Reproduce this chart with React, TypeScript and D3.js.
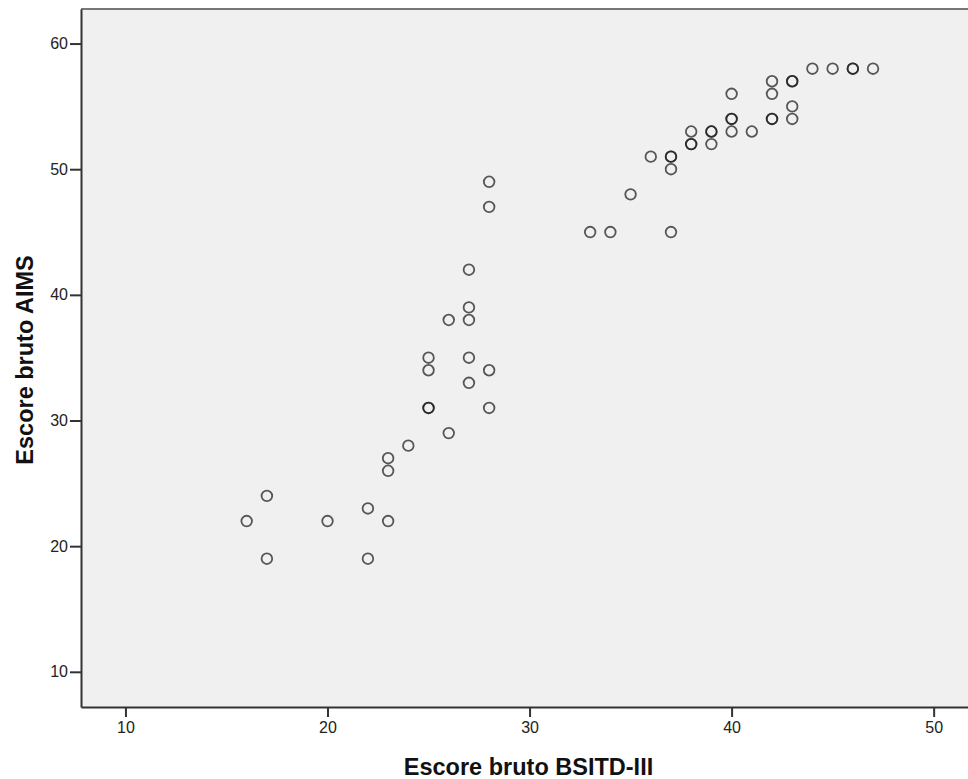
import React, { useEffect, useRef } from "react";
import * as d3 from "d3";

// raw scores, one entry per child (repeated pairs = overlapping circles)
const bsitd = [16, 17, 17, 20, 22, 22, 23, 23, 23, 24, 25, 25, 25, 25, 26, 26, 27, 27, 27, 27, 27, 28, 28, 28, 28,
    33, 34, 35, 36, 37, 37, 37, 37, 38, 38, 38, 39, 39, 39, 40, 40, 40, 40, 41, 42, 42, 42, 42, 43, 43, 43, 43,
    44, 45, 46, 46, 47];
const aims = [22, 24, 19, 22, 23, 19, 22, 27, 26, 28, 35, 34, 31, 31, 38, 29, 42, 39, 38, 35, 33, 49, 47, 34, 31,
    45, 45, 48, 51, 51, 51, 50, 45, 53, 52, 52, 53, 53, 52, 56, 54, 54, 53, 53, 57, 56, 54, 54, 57, 57, 55, 54,
    58, 58, 58, 58, 58];

const xTicks = [10, 20, 30, 40, 50];
const yTicks = [10, 20, 30, 40, 50, 60];
const xLabel = "Escore bruto BSITD-III";
const yLabel = "Escore bruto AIMS";

const W = 968;
const H = 779;
const plot = { left: 81, right: 968, top: 9, bottom: 707 };

export default function App() {
    const svgRef = useRef<SVGSVGElement>(null);

    useEffect(() => {
        const svg = d3.select(svgRef.current);
        svg.selectAll("*").remove();

        const x = d3.scaleLinear().domain([7.8, 51.7]).range([plot.left, plot.right]);
        const y = d3.scaleLinear().domain([7.2, 62.75]).range([plot.bottom, plot.top]);

        // background
        svg.append("rect")
            .attr("x", plot.left)
            .attr("y", plot.top)
            .attr("width", plot.right - plot.left)
            .attr("height", plot.bottom - plot.top)
            .attr("fill", "#f0f0f0");

        // top border is lighter than the axes
        svg.append("line")
            .attr("x1", plot.left).attr("x2", plot.right)
            .attr("y1", plot.top).attr("y2", plot.top)
            .attr("stroke", "#777").attr("stroke-width", 2);

        // axes
        const xAxis = svg.append("g")
            .attr("transform", `translate(0,${plot.bottom})`)
            .call(d3.axisBottom(x).tickValues(xTicks).tickSize(10).tickPadding(5).tickSizeOuter(0));
        const yAxis = svg.append("g")
            .attr("transform", `translate(${plot.left},0)`)
            .call(d3.axisLeft(y).tickValues(yTicks).tickSize(11).tickPadding(2).tickSizeOuter(0));

        [xAxis, yAxis].forEach(g => {
            g.select(".domain").attr("stroke", "#333").attr("stroke-width", 2);
            g.selectAll(".tick line").attr("stroke", "#333").attr("stroke-width", 2);
            g.selectAll(".tick text")
                .attr("fill", "#222")
                .style("font-family", "'Liberation Sans', Arial, sans-serif")
                .style("font-size", "16px");
        });

        // points
        svg.append("g")
            .selectAll("circle")
            .data(bsitd.map((d, i) => [d, aims[i]]))
            .enter()
            .append("circle")
            .attr("cx", d => x(d[0]))
            .attr("cy", d => y(d[1]))
            .attr("r", 5.3)
            .attr("fill", "none")
            .attr("stroke", "#1a1a1a")
            .attr("stroke-opacity", 0.72)
            .attr("stroke-width", 1.8);

        // titles
        svg.append("text")
            .attr("x", (plot.left + plot.right) / 2 + 4)
            .attr("y", 775)
            .attr("text-anchor", "middle")
            .style("font-family", "'Liberation Sans', Arial, sans-serif")
            .style("font-weight", "bold")
            .style("font-size", "23.5px")
            .attr("fill", "#111")
            .text(xLabel);

        svg.append("text")
            .attr("transform", `translate(33,${(plot.top + plot.bottom) / 2 + 2}) rotate(-90)`)
            .attr("text-anchor", "middle")
            .style("font-family", "'Liberation Sans', Arial, sans-serif")
            .style("font-weight", "bold")
            .style("font-size", "23.5px")
            .attr("fill", "#111")
            .text(yLabel);
    }, []);

    return (
        <svg ref={svgRef} width={W} height={H}
            style={{ position: "absolute", left: 0, top: 0, background: "#fff" }} />
    );
}
